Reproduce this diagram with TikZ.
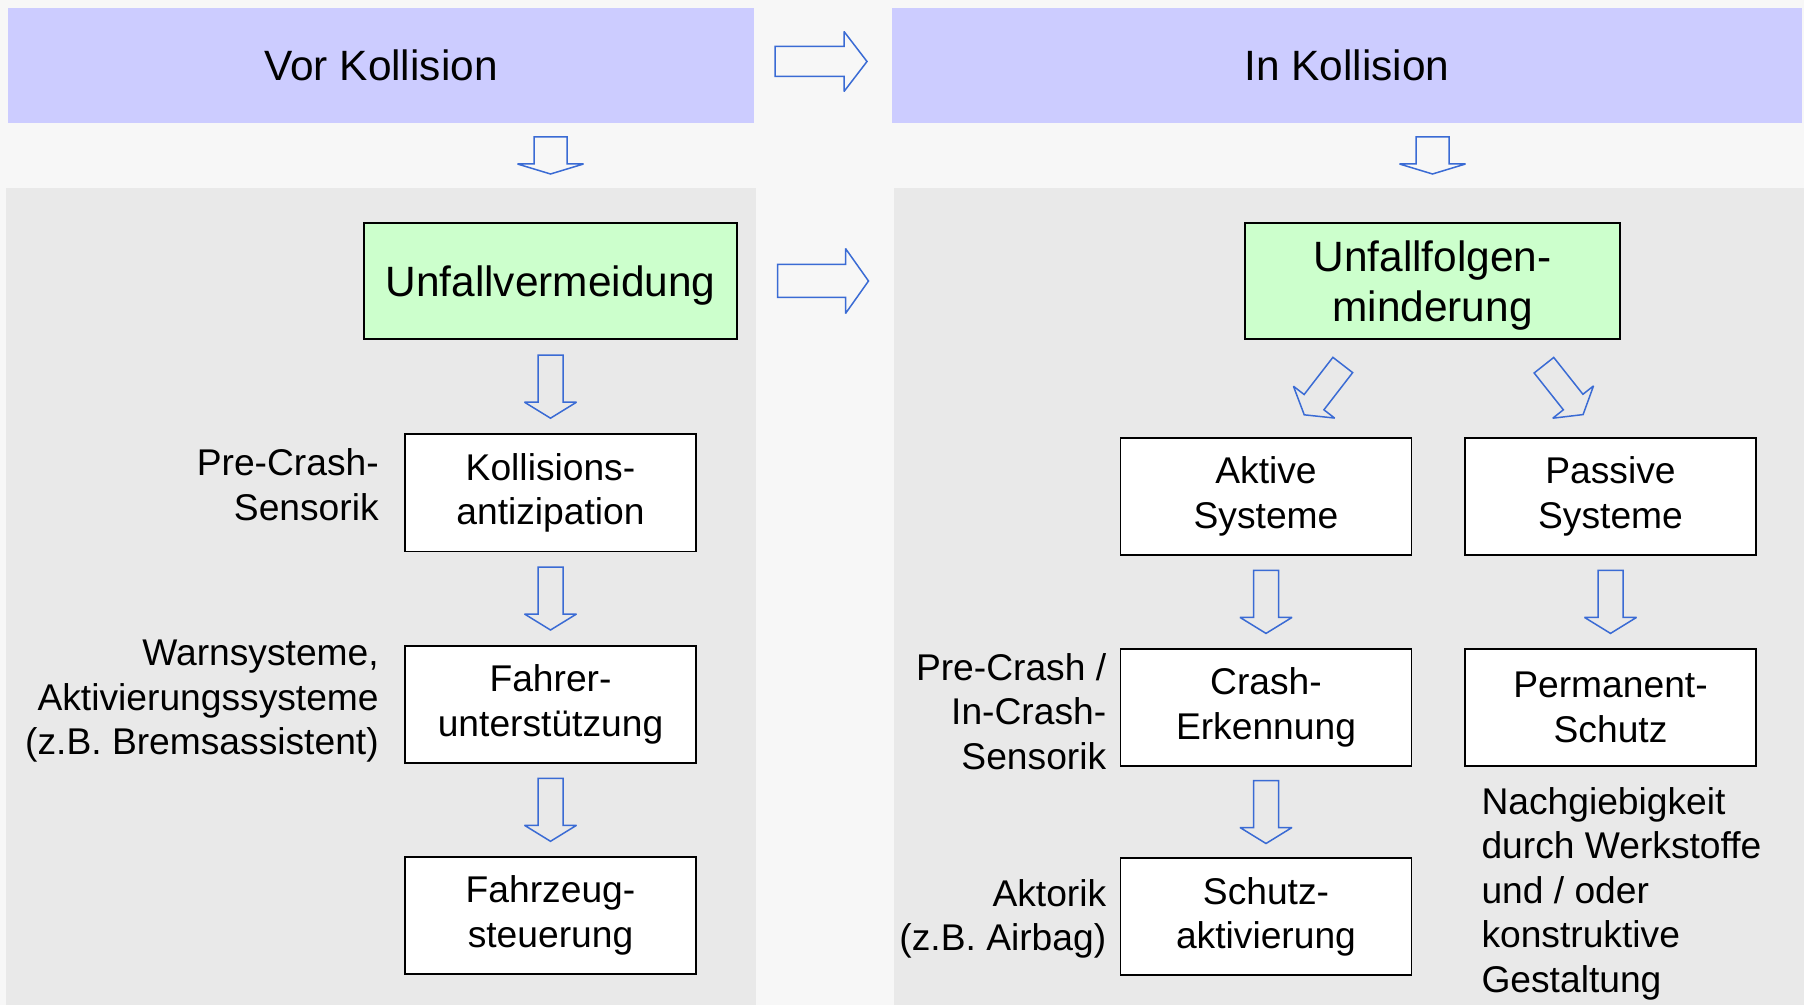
\documentclass[tikz,border=0pt]{standalone}
\usepackage{fontspec}
\setmainfont{Liberation Sans}
\usepackage{tikz}
\usetikzlibrary{calc, positioning}

\definecolor{bgcol}{HTML}{F7F7F7}
\definecolor{panelgray}{HTML}{E9E9E9}
\definecolor{headblue}{HTML}{CCCCFF}
\definecolor{goalgreen}{HTML}{CCFFCC}
\definecolor{arrowblue}{HTML}{3A6BD4}

\newcommand{\txtfont}{\fontsize{18.6}{22.3}\selectfont}
\newcommand{\bigfont}{\fontsize{21.2}{25.3}\selectfont}

% hollow block arrow: position, angle, shaft length, shaft width, head length, head width
\newcommand{\hollowarrow}[6]{%
  \draw[hollow, shift={#1}, rotate=#2]
    ({-(#3+#5)/2},{-#4/2}) -- ({(#3-#5)/2},{-#4/2}) -- ({(#3-#5)/2},{-#6/2})
    -- ({(#3+#5)/2},0) -- ({(#3-#5)/2},{#6/2}) -- ({(#3-#5)/2},{#4/2})
    -- ({-(#3+#5)/2},{#4/2}) -- cycle;}

\tikzset{
  panel/.style={fill=panelgray, inner sep=0pt},
  phase/.style={fill=headblue, inner sep=0pt, minimum height=57.5pt, font=\bigfont},
  goal/.style={draw, line width=0.9pt, fill=goalgreen, align=center, minimum height=58pt, text depth=0pt, font=\bigfont},
  stage/.style={draw, line width=0.9pt, fill=white, align=center, minimum width=145.5pt, minimum height=58.5pt, font=\txtfont},
  note/.style={align=right, font=\txtfont, inner sep=0pt},
  hollow/.style={draw=arrowblue, line width=0.75pt, miter limit=2},
}

\begin{document}
\begin{tikzpicture}[x=0.5pt, y=-0.5pt]
\fill[bgcol] (0,0) rectangle (1804,1005);
\useasboundingbox (0,0) rectangle (1804,1005);

% phases
\node[phase, minimum width=373pt] (vor) at (381,65.5) {Vor Kollision};
\node[phase, minimum width=455pt] (in) at (1347,65.5) {In Kollision};
\node[panel, minimum width=375pt, minimum height=408.5pt] (lpanel) at (381,596.5) {};
\node[panel, minimum width=455pt, minimum height=408.5pt] (rpanel) at (1349,596.5) {};

% goals
\node[goal, minimum width=186.5pt] (avoid) at (550.5,281) {Unfallvermeidung};
\node[goal, minimum width=187.5pt] (mitig) at (1432.5,281) {Unfallfolgen-\\minderung};

% left column
\node[stage, below=46.8pt of avoid] (antic) {Kollisions-\\antizipation};
\node[stage, below=46.2pt of antic] (assist) {Fahrer-\\unterstützung};
\node[stage, below=46.3pt of assist] (control) {Fahrzeug-\\steuerung};

% right column
\node[stage] (active) at (1266,496.5) {Aktive\\Systeme};
\node[stage] (passive) at (1610.5,496.5) {Passive\\Systeme};
\node[stage, below=46pt of active] (detect) {Crash-\\Erkennung};
\node[stage, below=45.3pt of detect] (trigger) {Schutz-\\aktivierung};
\node[stage, below=46pt of passive] (perm) {Permanent-\\Schutz};

% side notes
\node[note, left=12.5pt of antic, yshift=4pt] (sens1) {Pre-Crash-\\Sensorik};
\node[note, left=12.5pt of assist, yshift=1.5pt] (warn) {Warnsysteme,\\Aktivierungssysteme\\(z.B. Bremsassistent)};
\node[note, left=6.5pt of detect, yshift=-2pt] (sens2) {Pre-Crash /\\In-Crash-\\Sensorik};
\node[note, left=6.5pt of trigger, yshift=-1pt] (act) {Aktorik\\(z.B. Airbag)};
\node[note, align=left, anchor=north west] (yield) at ($(perm.south west)+(17,20)$)
  {Nachgiebigkeit\\durch Werkstoffe\\und / oder\\konstruktive\\Gestaltung};

% arrows
\coordinate (gap) at ($(vor.east)!0.5!(in.west)$);
\coordinate (drop) at ($(vor.south)!0.5!(lpanel.north)$);
\hollowarrow{($(gap)+(-2,-4)$)}{0}{69}{30}{23}{60}
\hollowarrow{(gap |- avoid)}{0}{68}{33}{23}{65}
\hollowarrow{(avoid |- drop)}{-90}{27}{33}{10}{66}
\hollowarrow{(mitig |- drop)}{-90}{27}{33}{10}{66}
\foreach \a/\b in {avoid/antic, antic/assist, assist/control, active/detect, detect/trigger, passive/perm}
  \hollowarrow{($(\a.south)!0.5!(\b.north)$)}{-90}{47}{25}{16}{52};
\hollowarrow{($(mitig.south)+(-109,50)$)}{-127.7}{47}{25}{16}{52}
\hollowarrow{($(mitig.south)+(131,50)$)}{-51.6}{47}{25}{16}{52}
\end{tikzpicture}
\end{document}
